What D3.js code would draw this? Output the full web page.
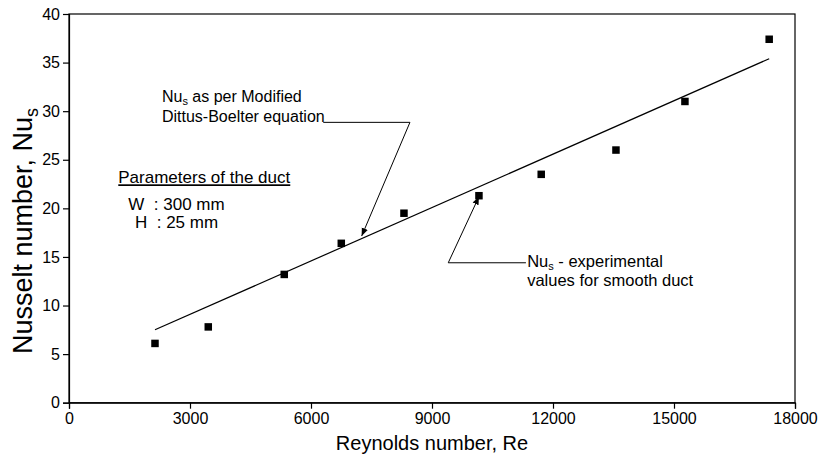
<!DOCTYPE html>
<html><head><meta charset="utf-8">
<script src="https://cdn.jsdelivr.net/npm/d3@7"></script>
<style>
body{margin:0;background:#fff;}
text{font-family:"Liberation Sans",Arial,sans-serif;fill:#000;}
</style></head>
<body><svg id="c" width="818" height="457"></svg>
<script>
const reExp = [2132, 3453, 5337, 6751, 8305, 10164, 11708, 13561, 15271, 17360];
const nuExp = [6.1, 7.8, 13.2, 16.4, 19.5, 21.3, 23.5, 26.0, 31.0, 37.4];
const reCorr = [2132, 17360];
const nuCorr = [7.5, 35.4];
const xTicks = [0, 3000, 6000, 9000, 12000, 15000, 18000];
const yTicks = [0, 5, 10, 15, 20, 25, 30, 35, 40];

const W = 818, H = 457;
const m = {l: 69, t: 14, r: 23, b: 54.3};
const svg = d3.select("#c");
const x = d3.scaleLinear().domain([0, 18000]).range([m.l, W - m.r]);
const y = d3.scaleLinear().domain([0, 40]).range([H - m.b, m.t]);

// frame
svg.append("rect").attr("x", x(0)).attr("y", y(40)).attr("width", x(18000) - x(0)).attr("height", y(0) - y(40))
  .attr("fill", "none").attr("stroke", "#000").attr("stroke-width", 1.2);

const xa = svg.append("g").attr("transform", `translate(0,${y(0)})`)
  .call(d3.axisBottom(x).tickValues(xTicks).tickSize(6).tickPadding(4).tickFormat(d3.format("d")));
const ya = svg.append("g").attr("transform", `translate(${x(0)},0)`)
  .call(d3.axisLeft(y).tickValues(yTicks).tickSize(6).tickPadding(3).tickFormat(d3.format("d")));
[xa, ya].forEach(g => {
  g.select(".domain").attr("stroke", "#000").attr("stroke-width", 1.2);
  g.selectAll(".tick line").attr("stroke", "#000").attr("stroke-width", 1.2);
  g.selectAll(".tick text").attr("font-size", 16).attr("font-family", "Liberation Sans, Arial, sans-serif").attr("fill", "#000");
});

// axis titles
svg.append("text").attr("x", (x(0) + x(18000)) / 2).attr("y", 450).attr("text-anchor", "middle")
  .attr("font-size", 20).text("Reynolds number, Re");
const yt = svg.append("text").attr("transform", `translate(32,231) rotate(-90)`)
  .attr("text-anchor", "middle").attr("font-size", 27);
yt.append("tspan").text("Nusselt number, Nu");
yt.append("tspan").attr("font-size", 18).attr("dy", 6).text("s");

// correlation line
const line = d3.line().x(d => x(d[0])).y(d => y(d[1]));
svg.append("path").datum(d3.zip(reCorr, nuCorr)).attr("d", line)
  .attr("fill", "none").attr("stroke", "#000").attr("stroke-width", 1.2);

// experimental points
const s = 7.5;
svg.selectAll("rect.pt").data(d3.zip(reExp, nuExp)).enter().append("rect").attr("class", "pt")
  .attr("x", d => x(d[0]) - s / 2).attr("y", d => y(d[1]) - s / 2).attr("width", s).attr("height", s).attr("fill", "#000");

// arrow marker
svg.append("defs").append("marker").attr("id", "ar").attr("viewBox", "0 0 10 10").attr("refX", 10).attr("refY", 5)
  .attr("markerWidth", 8).attr("markerHeight", 8).attr("orient", "auto").attr("markerUnits", "userSpaceOnUse")
  .append("path").attr("d", "M0,1 L10,5 L0,9 Z").attr("fill", "#000");

// annotation 1: Dittus-Boelter
const lead1 = [[6304, 28.85], [8453, 28.85], [7256, 17.15]];
svg.append("path").datum(lead1).attr("d", line).attr("fill", "none").attr("stroke", "#000").attr("stroke-width", 1)
  .attr("marker-end", "url(#ar)");
const t1 = svg.append("text").attr("x", x(2305)).attr("y", 101.7).attr("font-size", 16);
t1.append("tspan").text("Nu");
t1.append("tspan").attr("font-size", 11).attr("dy", 3).text("s");
t1.append("tspan").attr("dy", -3).text(" as per Modified");
svg.append("text").attr("x", x(2305)).attr("y", 121.7).attr("font-size", 16).text("Dittus-Boelter equation");

// annotation 2: experimental
const lead2 = [[11329, 14.4], [9403, 14.4], [10164, 21.2]];
svg.append("path").datum(lead2).attr("d", line).attr("fill", "none").attr("stroke", "#000").attr("stroke-width", 1)
  .attr("marker-end", "url(#ar)");
const t2 = svg.append("text").attr("x", x(11360)).attr("y", 266.7).attr("font-size", 16.5);
t2.append("tspan").text("Nu");
t2.append("tspan").attr("font-size", 11).attr("dy", 3).text("s");
t2.append("tspan").attr("dy", -3).text(" - experimental");
svg.append("text").attr("x", x(11360)).attr("y", 285.7).attr("font-size", 16.5).text("values for smooth duct");

// parameters
svg.append("text").attr("x", x(1222)).attr("y", 183.3).attr("font-size", 17).attr("text-decoration", "underline")
  .text("Parameters of the duct");
svg.append("text").attr("x", 128.3).attr("y", 209.5).attr("font-size", 17).attr("xml:space", "preserve").text("W  : 300 mm");
svg.append("text").attr("x", 135).attr("y", 228.3).attr("font-size", 17).attr("xml:space", "preserve").text("H  : 25 mm");
</script></body></html>
